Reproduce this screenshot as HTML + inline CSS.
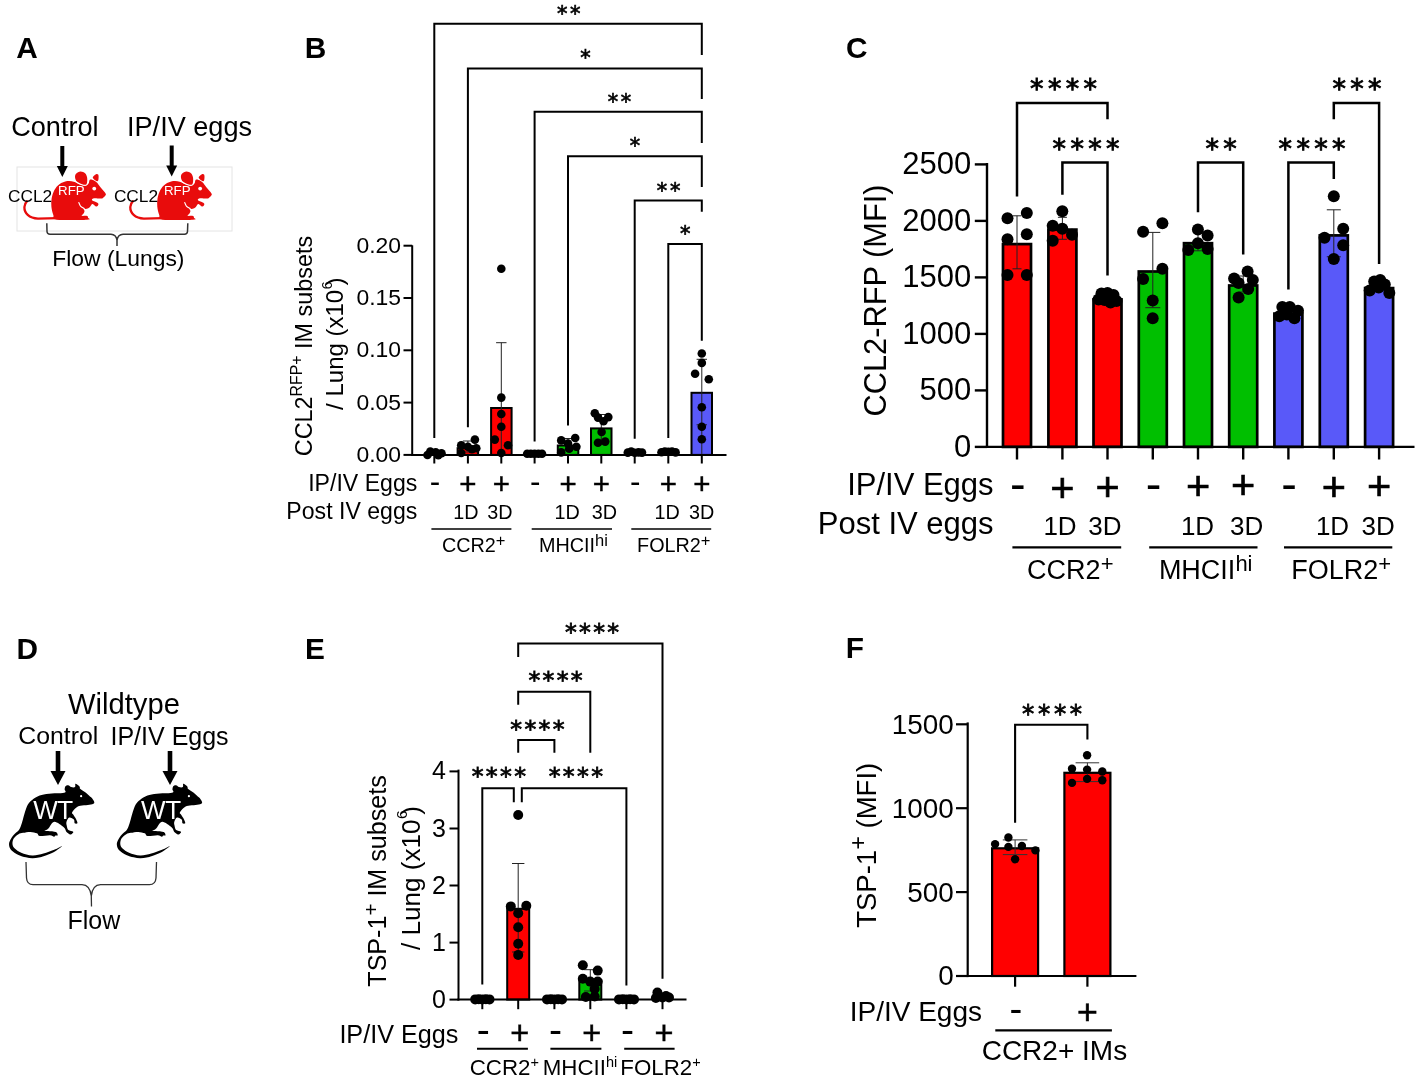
<!DOCTYPE html><html><head><meta charset="utf-8"><title>Figure</title>
<style>html,body{margin:0;padding:0;background:#fff}svg{display:block;will-change:transform}</style></head><body>
<svg width="1417" height="1082" viewBox="0 0 1417 1082">
<rect width="1417" height="1082" fill="#fff"/>
<text x="16.3" y="58.1" font-family="'Liberation Sans', Arial, sans-serif" font-size="29.8" text-anchor="start" font-weight="bold" fill="#000" >A</text>
<text x="304.8" y="58.1" font-family="'Liberation Sans', Arial, sans-serif" font-size="29.8" text-anchor="start" font-weight="bold" fill="#000" >B</text>
<text x="846.0" y="58.3" font-family="'Liberation Sans', Arial, sans-serif" font-size="29.8" text-anchor="start" font-weight="bold" fill="#000" >C</text>
<text x="16.5" y="658.5" font-family="'Liberation Sans', Arial, sans-serif" font-size="29.8" text-anchor="start" font-weight="bold" fill="#000" >D</text>
<text x="304.9" y="658.5" font-family="'Liberation Sans', Arial, sans-serif" font-size="29.8" text-anchor="start" font-weight="bold" fill="#000" >E</text>
<text x="845.8" y="658.4" font-family="'Liberation Sans', Arial, sans-serif" font-size="29.8" text-anchor="start" font-weight="bold" fill="#000" >F</text>
<g id="panelA">
<rect x="17" y="167" width="215" height="64" fill="none" stroke="#e4e4e4" stroke-width="1"/>
<text x="11.2" y="136.0" font-family="'Liberation Sans', Arial, sans-serif" font-size="27.1" text-anchor="start" font-weight="normal" fill="#000" >Control</text>
<text x="127.0" y="136.0" font-family="'Liberation Sans', Arial, sans-serif" font-size="27.1" text-anchor="start" font-weight="normal" fill="#000" >IP/IV eggs</text>
<line x1="62.3" y1="146.0" x2="62.3" y2="167.0" stroke="#000" stroke-width="4" stroke-linecap="butt"/>
<polygon points="56.8,166.0 67.8,166.0 62.3,177.0" fill="#000"/>
<line x1="171.7" y1="145.5" x2="171.7" y2="166.5" stroke="#000" stroke-width="4" stroke-linecap="butt"/>
<polygon points="166.2,165.5 177.2,165.5 171.7,176.5" fill="#000"/>
<g transform="translate(0,0)" fill="#e80c0c">
<path d="M57.5,218.1 L38,218.6 C29,218.3 24.2,213 24.4,207 C24.6,204 25.6,202.5 26.9,201.3" fill="none" stroke="#e80c0c" stroke-width="2.3" stroke-linecap="round"/>
<path d="M56.92,219.63 C51.30,218.84 54.24,217.09 53.32,214.92 C52.40,212.74 51.66,209.37 51.38,206.60 C51.10,203.82 51.15,201.05 51.66,198.28 C52.16,195.50 53.13,192.32 54.43,189.96 C55.72,187.60 57.29,185.61 59.42,184.13 C61.55,182.66 64.78,181.50 67.19,181.08 C69.59,180.67 71.81,181.13 73.84,181.64 C75.87,182.15 77.54,183.44 79.39,184.13 C81.24,184.83 83.41,185.89 84.93,185.80 C86.46,185.71 87.75,184.55 88.54,183.58 C89.32,182.61 88.95,180.58 89.65,179.98 C90.34,179.37 91.54,179.59 92.70,179.98 C93.85,180.36 95.29,181.10 96.58,182.30 C97.87,183.51 99.35,185.82 100.46,187.19 C101.57,188.55 102.39,189.48 103.24,190.51 C104.09,191.55 105.16,192.64 105.57,193.40 C105.97,194.16 106.06,194.34 105.68,195.06 C105.29,195.78 104.11,197.13 103.24,197.72 C102.37,198.31 101.85,198.52 100.46,198.61 C99.08,198.70 96.28,198.22 94.92,198.28 C93.55,198.33 92.67,198.57 92.25,198.94 C91.84,199.31 91.79,199.98 92.42,200.50 C93.05,201.01 95.04,201.49 96.03,202.05 C97.02,202.60 98.06,203.20 98.36,203.82 C98.65,204.45 98.19,205.40 97.80,205.82 C97.41,206.25 96.69,206.56 96.03,206.38 C95.36,206.19 94.45,205.12 93.81,204.71 C93.16,204.30 92.70,203.69 92.14,203.94 C91.59,204.18 91.13,205.41 90.48,206.15 C89.83,206.89 89.09,207.91 88.26,208.37 C87.43,208.83 86.32,208.93 85.49,208.93 C84.66,208.93 83.44,208.02 83.27,208.37 C83.10,208.72 84.47,210.13 84.49,211.03 C84.51,211.94 83.84,213.02 83.38,213.81 C82.92,214.59 81.11,215.40 81.72,215.75 C82.33,216.10 85.99,215.59 87.04,215.92 C88.09,216.24 88.04,217.06 88.04,217.69 C88.04,218.32 92.23,219.36 87.04,219.69 C81.86,220.01 62.54,220.43 56.92,219.63 Z"/>
<path d="M80.50,171.54 C79.00,171.64 76.97,172.89 76.06,173.87 C75.15,174.86 74.92,176.20 75.06,177.48 C75.20,178.75 75.71,180.42 76.89,181.53 C78.07,182.64 80.56,183.70 82.16,184.13 C83.76,184.57 85.65,185.20 86.49,184.13 C87.32,183.07 87.39,179.56 87.15,177.76 C86.91,175.95 86.15,174.35 85.04,173.32 C83.94,172.28 81.99,171.45 80.50,171.54 Z" stroke="#fff" stroke-width="2.2" paint-order="stroke"/>
<path d="M92.81,177.65 C92.57,176.47 95.14,174.67 96.03,174.15 C96.91,173.63 97.71,173.94 98.13,174.54 C98.56,175.14 98.69,176.65 98.58,177.76 C98.47,178.87 98.43,181.21 97.47,181.20 C96.51,181.18 93.05,178.82 92.81,177.65 Z" stroke="#fff" stroke-width="1.2" paint-order="stroke"/>
<path d="M78.83,202.60 C79.11,203.18 79.62,205.05 80.50,206.04 C81.37,207.03 83.50,208.12 84.10,208.54" fill="none" stroke="#fff" stroke-width="1.1" stroke-linecap="round"/>
<circle cx="94.25" cy="188.57" r="1.9" fill="#fff"/>
</g>
<g transform="translate(105.9,0)" fill="#e80c0c">
<path d="M57.5,218.1 L38,218.6 C29,218.3 24.2,213 24.4,207 C24.6,204 25.6,202.5 26.9,201.3" fill="none" stroke="#e80c0c" stroke-width="2.3" stroke-linecap="round"/>
<path d="M56.92,219.63 C51.30,218.84 54.24,217.09 53.32,214.92 C52.40,212.74 51.66,209.37 51.38,206.60 C51.10,203.82 51.15,201.05 51.66,198.28 C52.16,195.50 53.13,192.32 54.43,189.96 C55.72,187.60 57.29,185.61 59.42,184.13 C61.55,182.66 64.78,181.50 67.19,181.08 C69.59,180.67 71.81,181.13 73.84,181.64 C75.87,182.15 77.54,183.44 79.39,184.13 C81.24,184.83 83.41,185.89 84.93,185.80 C86.46,185.71 87.75,184.55 88.54,183.58 C89.32,182.61 88.95,180.58 89.65,179.98 C90.34,179.37 91.54,179.59 92.70,179.98 C93.85,180.36 95.29,181.10 96.58,182.30 C97.87,183.51 99.35,185.82 100.46,187.19 C101.57,188.55 102.39,189.48 103.24,190.51 C104.09,191.55 105.16,192.64 105.57,193.40 C105.97,194.16 106.06,194.34 105.68,195.06 C105.29,195.78 104.11,197.13 103.24,197.72 C102.37,198.31 101.85,198.52 100.46,198.61 C99.08,198.70 96.28,198.22 94.92,198.28 C93.55,198.33 92.67,198.57 92.25,198.94 C91.84,199.31 91.79,199.98 92.42,200.50 C93.05,201.01 95.04,201.49 96.03,202.05 C97.02,202.60 98.06,203.20 98.36,203.82 C98.65,204.45 98.19,205.40 97.80,205.82 C97.41,206.25 96.69,206.56 96.03,206.38 C95.36,206.19 94.45,205.12 93.81,204.71 C93.16,204.30 92.70,203.69 92.14,203.94 C91.59,204.18 91.13,205.41 90.48,206.15 C89.83,206.89 89.09,207.91 88.26,208.37 C87.43,208.83 86.32,208.93 85.49,208.93 C84.66,208.93 83.44,208.02 83.27,208.37 C83.10,208.72 84.47,210.13 84.49,211.03 C84.51,211.94 83.84,213.02 83.38,213.81 C82.92,214.59 81.11,215.40 81.72,215.75 C82.33,216.10 85.99,215.59 87.04,215.92 C88.09,216.24 88.04,217.06 88.04,217.69 C88.04,218.32 92.23,219.36 87.04,219.69 C81.86,220.01 62.54,220.43 56.92,219.63 Z"/>
<path d="M80.50,171.54 C79.00,171.64 76.97,172.89 76.06,173.87 C75.15,174.86 74.92,176.20 75.06,177.48 C75.20,178.75 75.71,180.42 76.89,181.53 C78.07,182.64 80.56,183.70 82.16,184.13 C83.76,184.57 85.65,185.20 86.49,184.13 C87.32,183.07 87.39,179.56 87.15,177.76 C86.91,175.95 86.15,174.35 85.04,173.32 C83.94,172.28 81.99,171.45 80.50,171.54 Z" stroke="#fff" stroke-width="2.2" paint-order="stroke"/>
<path d="M92.81,177.65 C92.57,176.47 95.14,174.67 96.03,174.15 C96.91,173.63 97.71,173.94 98.13,174.54 C98.56,175.14 98.69,176.65 98.58,177.76 C98.47,178.87 98.43,181.21 97.47,181.20 C96.51,181.18 93.05,178.82 92.81,177.65 Z" stroke="#fff" stroke-width="1.2" paint-order="stroke"/>
<path d="M78.83,202.60 C79.11,203.18 79.62,205.05 80.50,206.04 C81.37,207.03 83.50,208.12 84.10,208.54" fill="none" stroke="#fff" stroke-width="1.1" stroke-linecap="round"/>
<circle cx="94.25" cy="188.57" r="1.9" fill="#fff"/>
</g>
<text x="8.0" y="201.8" font-family="'Liberation Sans', Arial, sans-serif" font-size="17.3" text-anchor="start" font-weight="normal" fill="#000" >CCL2</text>
<text x="113.9" y="201.8" font-family="'Liberation Sans', Arial, sans-serif" font-size="17.3" text-anchor="start" font-weight="normal" fill="#000" >CCL2</text>
<text x="58.1" y="195.3" font-family="'Liberation Sans', Arial, sans-serif" font-size="13.3" text-anchor="start" font-weight="normal" fill="#fff" >RFP</text>
<text x="164.0" y="195.3" font-family="'Liberation Sans', Arial, sans-serif" font-size="13.3" text-anchor="start" font-weight="normal" fill="#fff" >RFP</text>
<path d="M46.8,223.3 L47,231.5 Q47.2,234.3 50,234.3 L111,234.3 Q116,234.5 117,240 L117,246 M117,240 Q118,234.5 123,234.3 L184.5,234.3 Q187.3,234.3 187.5,231.5 L187.8,223.3" fill="none" stroke="#333" stroke-width="1.5"/>
<text x="52.2" y="266.0" font-family="'Liberation Sans', Arial, sans-serif" font-size="22.9" text-anchor="start" font-weight="normal" fill="#000" >Flow (Lungs)</text>
</g>
<g id="panelB">
<rect x="457.6" y="448.2" width="20.5" height="6.7" fill="#ff0000" stroke="#000" stroke-width="2"/>
<rect x="491.1" y="408.0" width="20.5" height="46.9" fill="#ff0000" stroke="#000" stroke-width="2"/>
<rect x="557.8" y="445.5" width="20.5" height="9.4" fill="#00bf00" stroke="#000" stroke-width="2"/>
<rect x="591.0" y="428.4" width="20.5" height="26.5" fill="#00bf00" stroke="#000" stroke-width="2"/>
<rect x="691.5" y="392.8" width="20.5" height="62.1" fill="#5959f9" stroke="#000" stroke-width="2"/>
<line x1="501.3" y1="342.7" x2="501.3" y2="454.9" stroke="#222" stroke-width="1" stroke-linecap="butt"/>
<line x1="496.1" y1="342.7" x2="506.5" y2="342.7" stroke="#222" stroke-width="1" stroke-linecap="butt"/>
<line x1="496.1" y1="454.9" x2="506.5" y2="454.9" stroke="#222" stroke-width="1" stroke-linecap="butt"/>
<line x1="701.8" y1="359.3" x2="701.8" y2="424.8" stroke="#222" stroke-width="1" stroke-linecap="butt"/>
<line x1="696.6" y1="359.3" x2="707.0" y2="359.3" stroke="#222" stroke-width="1" stroke-linecap="butt"/>
<line x1="696.6" y1="424.8" x2="707.0" y2="424.8" stroke="#222" stroke-width="1" stroke-linecap="butt"/>
<line x1="701.8" y1="424.0" x2="701.8" y2="454.9" stroke="#222" stroke-width="1" stroke-linecap="butt"/>
<line x1="601.3" y1="414.5" x2="601.3" y2="440.0" stroke="#222" stroke-width="1" stroke-linecap="butt"/>
<line x1="596.1" y1="414.5" x2="606.5" y2="414.5" stroke="#222" stroke-width="1" stroke-linecap="butt"/>
<line x1="596.1" y1="440.0" x2="606.5" y2="440.0" stroke="#222" stroke-width="1" stroke-linecap="butt"/>
<line x1="467.9" y1="441.0" x2="467.9" y2="452.0" stroke="#222" stroke-width="1" stroke-linecap="butt"/>
<line x1="462.9" y1="441.0" x2="472.9" y2="441.0" stroke="#222" stroke-width="1" stroke-linecap="butt"/>
<line x1="462.9" y1="452.0" x2="472.9" y2="452.0" stroke="#222" stroke-width="1" stroke-linecap="butt"/>
<line x1="568.0" y1="438.5" x2="568.0" y2="450.0" stroke="#222" stroke-width="1" stroke-linecap="butt"/>
<line x1="563.0" y1="438.5" x2="573.0" y2="438.5" stroke="#222" stroke-width="1" stroke-linecap="butt"/>
<line x1="563.0" y1="450.0" x2="573.0" y2="450.0" stroke="#222" stroke-width="1" stroke-linecap="butt"/>
<line x1="412.2" y1="245.3" x2="412.2" y2="455.9" stroke="#000" stroke-width="2" stroke-linecap="butt"/>
<line x1="411.2" y1="454.9" x2="726.5" y2="454.9" stroke="#000" stroke-width="2" stroke-linecap="butt"/>
<line x1="403.5" y1="454.9" x2="412.2" y2="454.9" stroke="#000" stroke-width="2" stroke-linecap="butt"/>
<text x="401.0" y="462.0" font-family="'Liberation Sans', Arial, sans-serif" font-size="22.9" text-anchor="end" font-weight="normal" fill="#000" >0.00</text>
<line x1="403.5" y1="402.6" x2="412.2" y2="402.6" stroke="#000" stroke-width="2" stroke-linecap="butt"/>
<text x="401.0" y="409.7" font-family="'Liberation Sans', Arial, sans-serif" font-size="22.9" text-anchor="end" font-weight="normal" fill="#000" >0.05</text>
<line x1="403.5" y1="350.3" x2="412.2" y2="350.3" stroke="#000" stroke-width="2" stroke-linecap="butt"/>
<text x="401.0" y="357.4" font-family="'Liberation Sans', Arial, sans-serif" font-size="22.9" text-anchor="end" font-weight="normal" fill="#000" >0.10</text>
<line x1="403.5" y1="298.0" x2="412.2" y2="298.0" stroke="#000" stroke-width="2" stroke-linecap="butt"/>
<text x="401.0" y="305.1" font-family="'Liberation Sans', Arial, sans-serif" font-size="22.9" text-anchor="end" font-weight="normal" fill="#000" >0.15</text>
<line x1="403.5" y1="245.7" x2="412.2" y2="245.7" stroke="#000" stroke-width="2" stroke-linecap="butt"/>
<text x="401.0" y="252.8" font-family="'Liberation Sans', Arial, sans-serif" font-size="22.9" text-anchor="end" font-weight="normal" fill="#000" >0.20</text>
<line x1="434.3" y1="454.9" x2="434.3" y2="463.5" stroke="#000" stroke-width="2" stroke-linecap="butt"/>
<line x1="467.9" y1="454.9" x2="467.9" y2="463.5" stroke="#000" stroke-width="2" stroke-linecap="butt"/>
<line x1="501.3" y1="454.9" x2="501.3" y2="463.5" stroke="#000" stroke-width="2" stroke-linecap="butt"/>
<line x1="534.6" y1="454.9" x2="534.6" y2="463.5" stroke="#000" stroke-width="2" stroke-linecap="butt"/>
<line x1="568.0" y1="454.9" x2="568.0" y2="463.5" stroke="#000" stroke-width="2" stroke-linecap="butt"/>
<line x1="601.3" y1="454.9" x2="601.3" y2="463.5" stroke="#000" stroke-width="2" stroke-linecap="butt"/>
<line x1="634.7" y1="454.9" x2="634.7" y2="463.5" stroke="#000" stroke-width="2" stroke-linecap="butt"/>
<line x1="668.3" y1="454.9" x2="668.3" y2="463.5" stroke="#000" stroke-width="2" stroke-linecap="butt"/>
<line x1="701.8" y1="454.9" x2="701.8" y2="463.5" stroke="#000" stroke-width="2" stroke-linecap="butt"/>
<circle cx="427.5" cy="455.0" r="4.3" fill="#000"/>
<circle cx="430.3" cy="451.6" r="4.3" fill="#000"/>
<circle cx="435.7" cy="452.3" r="4.3" fill="#000"/>
<circle cx="441.5" cy="453.3" r="4.3" fill="#000"/>
<circle cx="438.3" cy="455.3" r="4.3" fill="#000"/>
<circle cx="461.2" cy="445.2" r="4.3" fill="#000"/>
<circle cx="474.9" cy="439.6" r="4.3" fill="#000"/>
<circle cx="476.3" cy="448.3" r="4.3" fill="#000"/>
<circle cx="461.2" cy="453.0" r="4.3" fill="#000"/>
<circle cx="467.9" cy="446.8" r="4.3" fill="#000"/>
<circle cx="472.0" cy="449.2" r="4.3" fill="#000"/>
<circle cx="501.3" cy="268.8" r="4.3" fill="#000"/>
<circle cx="501.3" cy="397.6" r="4.3" fill="#000"/>
<circle cx="501.3" cy="414.0" r="4.3" fill="#000"/>
<circle cx="501.3" cy="426.7" r="4.3" fill="#000"/>
<circle cx="494.8" cy="439.6" r="4.3" fill="#000"/>
<circle cx="508.0" cy="445.2" r="4.3" fill="#000"/>
<circle cx="501.3" cy="453.0" r="4.3" fill="#000"/>
<circle cx="527.2" cy="453.8" r="4.3" fill="#000"/>
<circle cx="530.8" cy="453.8" r="4.3" fill="#000"/>
<circle cx="534.6" cy="453.8" r="4.3" fill="#000"/>
<circle cx="538.4" cy="453.8" r="4.3" fill="#000"/>
<circle cx="542.0" cy="453.8" r="4.3" fill="#000"/>
<circle cx="561.2" cy="440.4" r="4.3" fill="#000"/>
<circle cx="575.2" cy="438.0" r="4.3" fill="#000"/>
<circle cx="568.0" cy="443.5" r="4.3" fill="#000"/>
<circle cx="576.4" cy="446.8" r="4.3" fill="#000"/>
<circle cx="561.2" cy="452.4" r="4.3" fill="#000"/>
<circle cx="569.2" cy="448.8" r="4.3" fill="#000"/>
<circle cx="594.8" cy="413.2" r="4.3" fill="#000"/>
<circle cx="608.3" cy="417.1" r="4.3" fill="#000"/>
<circle cx="598.0" cy="417.6" r="4.3" fill="#000"/>
<circle cx="603.5" cy="421.2" r="4.3" fill="#000"/>
<circle cx="601.6" cy="432.0" r="4.3" fill="#000"/>
<circle cx="598.0" cy="442.8" r="4.3" fill="#000"/>
<circle cx="605.2" cy="441.6" r="4.3" fill="#000"/>
<circle cx="627.8" cy="452.6" r="4.3" fill="#000"/>
<circle cx="631.2" cy="451.6" r="4.3" fill="#000"/>
<circle cx="634.7" cy="452.8" r="4.3" fill="#000"/>
<circle cx="638.5" cy="452.4" r="4.3" fill="#000"/>
<circle cx="642.0" cy="452.6" r="4.3" fill="#000"/>
<circle cx="661.5" cy="452.2" r="4.3" fill="#000"/>
<circle cx="664.8" cy="451.6" r="4.3" fill="#000"/>
<circle cx="668.3" cy="451.8" r="4.3" fill="#000"/>
<circle cx="672.0" cy="451.6" r="4.3" fill="#000"/>
<circle cx="675.6" cy="452.4" r="4.3" fill="#000"/>
<circle cx="701.8" cy="353.5" r="4.3" fill="#000"/>
<circle cx="701.8" cy="362.9" r="4.3" fill="#000"/>
<circle cx="695.1" cy="373.7" r="4.3" fill="#000"/>
<circle cx="708.8" cy="379.2" r="4.3" fill="#000"/>
<circle cx="701.8" cy="407.2" r="4.3" fill="#000"/>
<circle cx="701.8" cy="426.7" r="4.3" fill="#000"/>
<circle cx="701.8" cy="439.2" r="4.3" fill="#000"/>
<polyline points="434.3,438.0 434.3,23.7 701.8,23.7 701.8,55.0" fill="none" stroke="#000" stroke-width="2" stroke-linejoin="miter"/>
<polyline points="467.9,427.2 467.9,68.4 701.8,68.4 701.8,99.0" fill="none" stroke="#000" stroke-width="2" stroke-linejoin="miter"/>
<polyline points="534.6,441.6 534.6,111.8 701.8,111.8 701.8,143.0" fill="none" stroke="#000" stroke-width="2" stroke-linejoin="miter"/>
<polyline points="568.0,425.5 568.0,156.2 701.8,156.2 701.8,187.0" fill="none" stroke="#000" stroke-width="2" stroke-linejoin="miter"/>
<polyline points="634.7,438.7 634.7,200.5 701.8,200.5 701.8,211.7" fill="none" stroke="#000" stroke-width="2" stroke-linejoin="miter"/>
<polyline points="668.3,438.0 668.3,244.0 701.8,244.0 701.8,340.8" fill="none" stroke="#000" stroke-width="2" stroke-linejoin="miter"/>
<text x="570.1" y="21.1" font-family="'DejaVu Sans', 'Liberation Sans', sans-serif" font-size="20.8" text-anchor="middle" letter-spacing="2.7" fill="#000" stroke="#000" stroke-width="0.67">**</text>
<text x="586.9" y="65.2" font-family="'DejaVu Sans', 'Liberation Sans', sans-serif" font-size="20.8" text-anchor="middle" letter-spacing="2.7" fill="#000" stroke="#000" stroke-width="0.67">*</text>
<text x="620.8" y="109.1" font-family="'DejaVu Sans', 'Liberation Sans', sans-serif" font-size="20.8" text-anchor="middle" letter-spacing="2.7" fill="#000" stroke="#000" stroke-width="0.67">**</text>
<text x="636.4" y="153.4" font-family="'DejaVu Sans', 'Liberation Sans', sans-serif" font-size="20.8" text-anchor="middle" letter-spacing="2.7" fill="#000" stroke="#000" stroke-width="0.67">*</text>
<text x="669.9" y="197.7" font-family="'DejaVu Sans', 'Liberation Sans', sans-serif" font-size="20.8" text-anchor="middle" letter-spacing="2.7" fill="#000" stroke="#000" stroke-width="0.67">**</text>
<text x="686.6" y="241.2" font-family="'DejaVu Sans', 'Liberation Sans', sans-serif" font-size="20.8" text-anchor="middle" letter-spacing="2.7" fill="#000" stroke="#000" stroke-width="0.67">*</text>
<text x="417.3" y="491.0" font-family="'Liberation Sans', Arial, sans-serif" font-size="23.1" text-anchor="end" font-weight="normal" fill="#000" >IP/IV Eggs</text>
<text x="417.3" y="518.8" font-family="'Liberation Sans', Arial, sans-serif" font-size="23.1" text-anchor="end" font-weight="normal" fill="#000" >Post IV eggs</text>
<text x="434.9" y="492.1" font-family="'Liberation Sans', Arial, sans-serif" font-size="31.4" text-anchor="middle" fill="#000">-</text>
<text x="467.9" y="494.3" font-family="'Liberation Sans', Arial, sans-serif" font-size="29.5" text-anchor="middle" fill="#000" stroke="#000" stroke-width="0.44">+</text>
<text x="501.3" y="494.3" font-family="'Liberation Sans', Arial, sans-serif" font-size="29.5" text-anchor="middle" fill="#000" stroke="#000" stroke-width="0.44">+</text>
<text x="535.2" y="492.1" font-family="'Liberation Sans', Arial, sans-serif" font-size="31.4" text-anchor="middle" fill="#000">-</text>
<text x="568.0" y="494.3" font-family="'Liberation Sans', Arial, sans-serif" font-size="29.5" text-anchor="middle" fill="#000" stroke="#000" stroke-width="0.44">+</text>
<text x="601.3" y="494.3" font-family="'Liberation Sans', Arial, sans-serif" font-size="29.5" text-anchor="middle" fill="#000" stroke="#000" stroke-width="0.44">+</text>
<text x="635.3" y="492.1" font-family="'Liberation Sans', Arial, sans-serif" font-size="31.4" text-anchor="middle" fill="#000">-</text>
<text x="668.3" y="494.3" font-family="'Liberation Sans', Arial, sans-serif" font-size="29.5" text-anchor="middle" fill="#000" stroke="#000" stroke-width="0.44">+</text>
<text x="701.8" y="494.3" font-family="'Liberation Sans', Arial, sans-serif" font-size="29.5" text-anchor="middle" fill="#000" stroke="#000" stroke-width="0.44">+</text>
<text x="465.8" y="518.8" font-family="'Liberation Sans', Arial, sans-serif" font-size="19.8" text-anchor="middle" font-weight="normal" fill="#000" >1D</text>
<text x="499.9" y="518.8" font-family="'Liberation Sans', Arial, sans-serif" font-size="19.8" text-anchor="middle" font-weight="normal" fill="#000" >3D</text>
<text x="567.1" y="518.8" font-family="'Liberation Sans', Arial, sans-serif" font-size="19.8" text-anchor="middle" font-weight="normal" fill="#000" >1D</text>
<text x="604.4" y="518.8" font-family="'Liberation Sans', Arial, sans-serif" font-size="19.8" text-anchor="middle" font-weight="normal" fill="#000" >3D</text>
<text x="667.1" y="518.8" font-family="'Liberation Sans', Arial, sans-serif" font-size="19.8" text-anchor="middle" font-weight="normal" fill="#000" >1D</text>
<text x="701.6" y="518.8" font-family="'Liberation Sans', Arial, sans-serif" font-size="19.8" text-anchor="middle" font-weight="normal" fill="#000" >3D</text>
<line x1="431.4" y1="529.0" x2="511.4" y2="529.0" stroke="#000" stroke-width="1.6" stroke-linecap="butt"/>
<line x1="531.7" y1="529.0" x2="612.0" y2="529.0" stroke="#000" stroke-width="1.6" stroke-linecap="butt"/>
<line x1="631.3" y1="529.0" x2="711.2" y2="529.0" stroke="#000" stroke-width="1.6" stroke-linecap="butt"/>
<text x="473.7" y="552.3" font-family="'Liberation Sans', Arial, sans-serif" font-size="19.8" text-anchor="middle" font-weight="normal" fill="#000" >CCR2<tspan dy="-6" dx="0" font-size="16.5">+</tspan><tspan dy="6" dx="0" font-size="1">&#8203;</tspan></text>
<text x="573.4" y="552.3" font-family="'Liberation Sans', Arial, sans-serif" font-size="19.8" text-anchor="middle" font-weight="normal" fill="#000" >MHCII<tspan dy="-6" dx="0" font-size="16.5">hi</tspan><tspan dy="6" dx="0" font-size="1">&#8203;</tspan></text>
<text x="673.8" y="552.3" font-family="'Liberation Sans', Arial, sans-serif" font-size="19.8" text-anchor="middle" font-weight="normal" fill="#000" >FOLR2<tspan dy="-6" dx="0" font-size="16.5">+</tspan><tspan dy="6" dx="0" font-size="1">&#8203;</tspan></text>
<text transform="translate(311.9,346.0) rotate(-90)" font-family="'Liberation Sans', Arial, sans-serif" font-size="23.45" text-anchor="middle" fill="#000">CCL2<tspan dy="-10.2" dx="0" font-size="15.8">RFP+</tspan><tspan dy="10.2" dx="0" font-size="1">&#8203;</tspan> IM subsets</text>
<text transform="translate(343.0,343.7) rotate(-90)" font-family="'Liberation Sans', Arial, sans-serif" font-size="24.0" text-anchor="middle" fill="#000">/ Lung (x10<tspan dy="-11.5" dx="0.5" font-size="14">6</tspan><tspan dy="11.5" dx="-4" font-size="1">&#8203;</tspan>)</text>
</g>
<g id="panelC">
<rect x="1003.0" y="244.1" width="28.0" height="202.8" fill="#ff0000" stroke="#000" stroke-width="2.7"/>
<rect x="1048.4" y="229.6" width="28.0" height="217.3" fill="#ff0000" stroke="#000" stroke-width="2.7"/>
<rect x="1093.5" y="299.4" width="28.0" height="147.5" fill="#ff0000" stroke="#000" stroke-width="2.7"/>
<rect x="1138.8" y="271.5" width="28.0" height="175.4" fill="#00bf00" stroke="#000" stroke-width="2.7"/>
<rect x="1184.0" y="243.2" width="28.0" height="203.7" fill="#00bf00" stroke="#000" stroke-width="2.7"/>
<rect x="1229.2" y="285.5" width="28.0" height="161.4" fill="#00bf00" stroke="#000" stroke-width="2.7"/>
<rect x="1274.4" y="313.6" width="28.0" height="133.3" fill="#5959f9" stroke="#000" stroke-width="2.7"/>
<rect x="1319.8" y="235.4" width="28.0" height="211.5" fill="#5959f9" stroke="#000" stroke-width="2.7"/>
<rect x="1365.1" y="288.1" width="28.0" height="158.8" fill="#5959f9" stroke="#000" stroke-width="2.7"/>
<line x1="1017.0" y1="215.8" x2="1017.0" y2="268.8" stroke="#222" stroke-width="1" stroke-linecap="butt"/>
<line x1="1012.5" y1="215.8" x2="1021.5" y2="215.8" stroke="#222" stroke-width="1" stroke-linecap="butt"/>
<line x1="1012.5" y1="268.8" x2="1021.5" y2="268.8" stroke="#222" stroke-width="1" stroke-linecap="butt"/>
<line x1="1062.4" y1="217.3" x2="1062.4" y2="239.3" stroke="#222" stroke-width="1" stroke-linecap="butt"/>
<line x1="1057.9" y1="217.3" x2="1066.9" y2="217.3" stroke="#222" stroke-width="1" stroke-linecap="butt"/>
<line x1="1057.9" y1="239.3" x2="1066.9" y2="239.3" stroke="#222" stroke-width="1" stroke-linecap="butt"/>
<line x1="1152.8" y1="232.4" x2="1152.8" y2="307.7" stroke="#222" stroke-width="1" stroke-linecap="butt"/>
<line x1="1145.3" y1="232.4" x2="1160.3" y2="232.4" stroke="#222" stroke-width="1" stroke-linecap="butt"/>
<line x1="1145.3" y1="307.7" x2="1160.3" y2="307.7" stroke="#222" stroke-width="1" stroke-linecap="butt"/>
<line x1="1198.0" y1="232.4" x2="1198.0" y2="250.8" stroke="#222" stroke-width="1" stroke-linecap="butt"/>
<line x1="1193.5" y1="232.4" x2="1202.5" y2="232.4" stroke="#222" stroke-width="1" stroke-linecap="butt"/>
<line x1="1193.5" y1="250.8" x2="1202.5" y2="250.8" stroke="#222" stroke-width="1" stroke-linecap="butt"/>
<line x1="1333.8" y1="209.8" x2="1333.8" y2="256.8" stroke="#222" stroke-width="1" stroke-linecap="butt"/>
<line x1="1326.8" y1="209.8" x2="1340.8" y2="209.8" stroke="#222" stroke-width="1" stroke-linecap="butt"/>
<line x1="1326.8" y1="256.8" x2="1340.8" y2="256.8" stroke="#222" stroke-width="1" stroke-linecap="butt"/>
<line x1="1243.2" y1="276.0" x2="1243.2" y2="292.0" stroke="#222" stroke-width="1" stroke-linecap="butt"/>
<line x1="1238.7" y1="276.0" x2="1247.7" y2="276.0" stroke="#222" stroke-width="1" stroke-linecap="butt"/>
<line x1="1238.7" y1="292.0" x2="1247.7" y2="292.0" stroke="#222" stroke-width="1" stroke-linecap="butt"/>
<line x1="987.0" y1="163.0" x2="987.0" y2="448.1" stroke="#000" stroke-width="2.4" stroke-linecap="butt"/>
<line x1="985.8" y1="446.9" x2="1414.5" y2="446.9" stroke="#000" stroke-width="2.4" stroke-linecap="butt"/>
<line x1="974.8" y1="446.9" x2="987.0" y2="446.9" stroke="#000" stroke-width="2.4" stroke-linecap="butt"/>
<text x="971.2" y="456.8" font-family="'Liberation Sans', Arial, sans-serif" font-size="31" text-anchor="end" font-weight="normal" fill="#000" >0</text>
<line x1="974.8" y1="390.4" x2="987.0" y2="390.4" stroke="#000" stroke-width="2.4" stroke-linecap="butt"/>
<text x="971.2" y="400.3" font-family="'Liberation Sans', Arial, sans-serif" font-size="31" text-anchor="end" font-weight="normal" fill="#000" >500</text>
<line x1="974.8" y1="333.9" x2="987.0" y2="333.9" stroke="#000" stroke-width="2.4" stroke-linecap="butt"/>
<text x="971.2" y="343.8" font-family="'Liberation Sans', Arial, sans-serif" font-size="31" text-anchor="end" font-weight="normal" fill="#000" >1000</text>
<line x1="974.8" y1="277.4" x2="987.0" y2="277.4" stroke="#000" stroke-width="2.4" stroke-linecap="butt"/>
<text x="971.2" y="287.3" font-family="'Liberation Sans', Arial, sans-serif" font-size="31" text-anchor="end" font-weight="normal" fill="#000" >1500</text>
<line x1="974.8" y1="220.9" x2="987.0" y2="220.9" stroke="#000" stroke-width="2.4" stroke-linecap="butt"/>
<text x="971.2" y="230.8" font-family="'Liberation Sans', Arial, sans-serif" font-size="31" text-anchor="end" font-weight="normal" fill="#000" >2000</text>
<line x1="974.8" y1="164.4" x2="987.0" y2="164.4" stroke="#000" stroke-width="2.4" stroke-linecap="butt"/>
<text x="971.2" y="174.3" font-family="'Liberation Sans', Arial, sans-serif" font-size="31" text-anchor="end" font-weight="normal" fill="#000" >2500</text>
<line x1="1017.0" y1="446.9" x2="1017.0" y2="459.5" stroke="#000" stroke-width="2.4" stroke-linecap="butt"/>
<line x1="1062.4" y1="446.9" x2="1062.4" y2="459.5" stroke="#000" stroke-width="2.4" stroke-linecap="butt"/>
<line x1="1107.5" y1="446.9" x2="1107.5" y2="459.5" stroke="#000" stroke-width="2.4" stroke-linecap="butt"/>
<line x1="1152.8" y1="446.9" x2="1152.8" y2="459.5" stroke="#000" stroke-width="2.4" stroke-linecap="butt"/>
<line x1="1198.0" y1="446.9" x2="1198.0" y2="459.5" stroke="#000" stroke-width="2.4" stroke-linecap="butt"/>
<line x1="1243.2" y1="446.9" x2="1243.2" y2="459.5" stroke="#000" stroke-width="2.4" stroke-linecap="butt"/>
<line x1="1288.4" y1="446.9" x2="1288.4" y2="459.5" stroke="#000" stroke-width="2.4" stroke-linecap="butt"/>
<line x1="1333.8" y1="446.9" x2="1333.8" y2="459.5" stroke="#000" stroke-width="2.4" stroke-linecap="butt"/>
<line x1="1379.1" y1="446.9" x2="1379.1" y2="459.5" stroke="#000" stroke-width="2.4" stroke-linecap="butt"/>
<circle cx="1007.5" cy="218.2" r="6" fill="#000"/>
<circle cx="1026.8" cy="213.1" r="6" fill="#000"/>
<circle cx="1007.5" cy="239.3" r="6" fill="#000"/>
<circle cx="1026.8" cy="234.2" r="6" fill="#000"/>
<circle cx="1007.5" cy="274.9" r="6" fill="#000"/>
<circle cx="1026.8" cy="274.9" r="6" fill="#000"/>
<circle cx="1062.3" cy="211.3" r="6" fill="#000"/>
<circle cx="1052.7" cy="225.7" r="6" fill="#000"/>
<circle cx="1062.3" cy="228.8" r="6" fill="#000"/>
<circle cx="1072.0" cy="234.8" r="6" fill="#000"/>
<circle cx="1052.7" cy="240.8" r="6" fill="#000"/>
<circle cx="1101.5" cy="293.5" r="6" fill="#000"/>
<circle cx="1107.5" cy="293.0" r="6" fill="#000"/>
<circle cx="1113.5" cy="295.0" r="6" fill="#000"/>
<circle cx="1116.5" cy="301.0" r="6" fill="#000"/>
<circle cx="1098.5" cy="299.5" r="6" fill="#000"/>
<circle cx="1110.5" cy="302.5" r="6" fill="#000"/>
<circle cx="1104.5" cy="300.0" r="6" fill="#000"/>
<circle cx="1162.4" cy="223.3" r="6" fill="#000"/>
<circle cx="1143.1" cy="231.8" r="6" fill="#000"/>
<circle cx="1162.4" cy="268.8" r="6" fill="#000"/>
<circle cx="1143.1" cy="279.1" r="6" fill="#000"/>
<circle cx="1152.7" cy="300.5" r="6" fill="#000"/>
<circle cx="1152.7" cy="318.3" r="6" fill="#000"/>
<circle cx="1197.9" cy="229.4" r="6" fill="#000"/>
<circle cx="1207.6" cy="235.4" r="6" fill="#000"/>
<circle cx="1197.9" cy="243.2" r="6" fill="#000"/>
<circle cx="1188.3" cy="249.9" r="6" fill="#000"/>
<circle cx="1207.6" cy="249.0" r="6" fill="#000"/>
<circle cx="1247.6" cy="271.6" r="6" fill="#000"/>
<circle cx="1234.1" cy="278.5" r="6" fill="#000"/>
<circle cx="1252.8" cy="280.0" r="6" fill="#000"/>
<circle cx="1238.6" cy="283.0" r="6" fill="#000"/>
<circle cx="1248.2" cy="289.0" r="6" fill="#000"/>
<circle cx="1238.6" cy="297.5" r="6" fill="#000"/>
<circle cx="1282.3" cy="307.1" r="6" fill="#000"/>
<circle cx="1289.8" cy="307.1" r="6" fill="#000"/>
<circle cx="1298.0" cy="310.7" r="6" fill="#000"/>
<circle cx="1279.3" cy="316.2" r="6" fill="#000"/>
<circle cx="1286.8" cy="314.6" r="6" fill="#000"/>
<circle cx="1294.4" cy="318.3" r="6" fill="#000"/>
<circle cx="1333.8" cy="196.2" r="6" fill="#000"/>
<circle cx="1343.2" cy="228.8" r="6" fill="#000"/>
<circle cx="1324.5" cy="237.8" r="6" fill="#000"/>
<circle cx="1343.2" cy="245.3" r="6" fill="#000"/>
<circle cx="1333.8" cy="258.9" r="6" fill="#000"/>
<circle cx="1374.2" cy="281.5" r="6" fill="#000"/>
<circle cx="1380.2" cy="280.0" r="6" fill="#000"/>
<circle cx="1384.8" cy="284.5" r="6" fill="#000"/>
<circle cx="1369.7" cy="290.5" r="6" fill="#000"/>
<circle cx="1389.3" cy="293.0" r="6" fill="#000"/>
<circle cx="1378.7" cy="287.5" r="6" fill="#000"/>
<polyline points="1017.0,196.5 1017.0,103.0 1107.5,103.0 1107.5,119.3" fill="none" stroke="#000" stroke-width="2.5" stroke-linejoin="miter"/>
<polyline points="1062.4,194.7 1062.4,162.5 1107.5,162.5 1107.5,275.5" fill="none" stroke="#000" stroke-width="2.5" stroke-linejoin="miter"/>
<polyline points="1198.0,212.2 1198.0,162.5 1243.2,162.5 1243.2,254.4" fill="none" stroke="#000" stroke-width="2.5" stroke-linejoin="miter"/>
<polyline points="1288.4,289.6 1288.4,162.5 1333.8,162.5 1333.8,179.0" fill="none" stroke="#000" stroke-width="2.5" stroke-linejoin="miter"/>
<polyline points="1333.8,119.3 1333.8,103.0 1379.1,103.0 1379.1,264.0" fill="none" stroke="#000" stroke-width="2.5" stroke-linejoin="miter"/>
<text x="1065.7" y="98.3" font-family="'DejaVu Sans', 'Liberation Sans', sans-serif" font-size="26.9" text-anchor="middle" letter-spacing="4.35" fill="#000" stroke="#000" stroke-width="0.86">****</text>
<text x="1088.2" y="157.9" font-family="'DejaVu Sans', 'Liberation Sans', sans-serif" font-size="26.9" text-anchor="middle" letter-spacing="4.35" fill="#000" stroke="#000" stroke-width="0.86">****</text>
<text x="1223.2" y="157.9" font-family="'DejaVu Sans', 'Liberation Sans', sans-serif" font-size="26.9" text-anchor="middle" letter-spacing="4.35" fill="#000" stroke="#000" stroke-width="0.86">**</text>
<text x="1314.2" y="157.9" font-family="'DejaVu Sans', 'Liberation Sans', sans-serif" font-size="26.9" text-anchor="middle" letter-spacing="4.35" fill="#000" stroke="#000" stroke-width="0.86">****</text>
<text x="1359.2" y="98.3" font-family="'DejaVu Sans', 'Liberation Sans', sans-serif" font-size="26.9" text-anchor="middle" letter-spacing="4.35" fill="#000" stroke="#000" stroke-width="0.86">***</text>
<text x="993.6" y="494.7" font-family="'Liberation Sans', Arial, sans-serif" font-size="31" text-anchor="end" font-weight="normal" fill="#000" >IP/IV Eggs</text>
<text x="993.6" y="534.0" font-family="'Liberation Sans', Arial, sans-serif" font-size="31" text-anchor="end" font-weight="normal" fill="#000" >Post IV eggs</text>
<text x="1017.7" y="499.7" font-family="'Liberation Sans', Arial, sans-serif" font-size="46.9" text-anchor="middle" fill="#000">-</text>
<text x="1062.4" y="501.5" font-family="'Liberation Sans', Arial, sans-serif" font-size="41.5" text-anchor="middle" fill="#000" stroke="#000" stroke-width="0.62">+</text>
<text x="1107.5" y="500.7" font-family="'Liberation Sans', Arial, sans-serif" font-size="41.5" text-anchor="middle" fill="#000" stroke="#000" stroke-width="0.62">+</text>
<text x="1153.5" y="499.7" font-family="'Liberation Sans', Arial, sans-serif" font-size="46.9" text-anchor="middle" fill="#000">-</text>
<text x="1198.0" y="500.2" font-family="'Liberation Sans', Arial, sans-serif" font-size="41.5" text-anchor="middle" fill="#000" stroke="#000" stroke-width="0.62">+</text>
<text x="1243.2" y="498.8" font-family="'Liberation Sans', Arial, sans-serif" font-size="41.5" text-anchor="middle" fill="#000" stroke="#000" stroke-width="0.62">+</text>
<text x="1289.1" y="499.7" font-family="'Liberation Sans', Arial, sans-serif" font-size="46.9" text-anchor="middle" fill="#000">-</text>
<text x="1333.8" y="501.2" font-family="'Liberation Sans', Arial, sans-serif" font-size="41.5" text-anchor="middle" fill="#000" stroke="#000" stroke-width="0.62">+</text>
<text x="1379.1" y="500.4" font-family="'Liberation Sans', Arial, sans-serif" font-size="41.5" text-anchor="middle" fill="#000" stroke="#000" stroke-width="0.62">+</text>
<text x="1060.0" y="534.5" font-family="'Liberation Sans', Arial, sans-serif" font-size="26" text-anchor="middle" font-weight="normal" fill="#000" >1D</text>
<text x="1104.8" y="534.5" font-family="'Liberation Sans', Arial, sans-serif" font-size="26" text-anchor="middle" font-weight="normal" fill="#000" >3D</text>
<text x="1197.5" y="534.5" font-family="'Liberation Sans', Arial, sans-serif" font-size="26" text-anchor="middle" font-weight="normal" fill="#000" >1D</text>
<text x="1246.6" y="534.5" font-family="'Liberation Sans', Arial, sans-serif" font-size="26" text-anchor="middle" font-weight="normal" fill="#000" >3D</text>
<text x="1332.5" y="534.5" font-family="'Liberation Sans', Arial, sans-serif" font-size="26" text-anchor="middle" font-weight="normal" fill="#000" >1D</text>
<text x="1378.2" y="534.5" font-family="'Liberation Sans', Arial, sans-serif" font-size="26" text-anchor="middle" font-weight="normal" fill="#000" >3D</text>
<line x1="1012.4" y1="547.3" x2="1121.2" y2="547.3" stroke="#000" stroke-width="2.3" stroke-linecap="butt"/>
<line x1="1149.2" y1="547.3" x2="1257.5" y2="547.3" stroke="#000" stroke-width="2.3" stroke-linecap="butt"/>
<line x1="1284.0" y1="547.3" x2="1392.3" y2="547.3" stroke="#000" stroke-width="2.3" stroke-linecap="butt"/>
<text x="1070.3" y="578.9" font-family="'Liberation Sans', Arial, sans-serif" font-size="27" text-anchor="middle" font-weight="normal" fill="#000" >CCR2<tspan dy="-8.3" dx="0" font-size="22">+</tspan><tspan dy="8.3" dx="0" font-size="1">&#8203;</tspan></text>
<text x="1205.7" y="578.9" font-family="'Liberation Sans', Arial, sans-serif" font-size="27" text-anchor="middle" font-weight="normal" fill="#000" >MHCII<tspan dy="-8.3" dx="0" font-size="22">hi</tspan><tspan dy="8.3" dx="0" font-size="1">&#8203;</tspan></text>
<text x="1341.1" y="578.9" font-family="'Liberation Sans', Arial, sans-serif" font-size="27" text-anchor="middle" font-weight="normal" fill="#000" >FOLR2<tspan dy="-8.3" dx="0" font-size="22">+</tspan><tspan dy="8.3" dx="0" font-size="1">&#8203;</tspan></text>
<text transform="translate(886.0,300.5) rotate(-90)" font-family="'Liberation Sans', Arial, sans-serif" font-size="30.8" text-anchor="middle" fill="#000">CCL2-RFP (MFI)</text>
</g>
<g id="panelD">
<text x="68.0" y="714.0" font-family="'Liberation Sans', Arial, sans-serif" font-size="29.2" text-anchor="start" font-weight="normal" fill="#000" >Wildtype</text>
<text x="18.3" y="743.6" font-family="'Liberation Sans', Arial, sans-serif" font-size="24.8" text-anchor="start" font-weight="normal" fill="#000" >Control</text>
<text x="110.5" y="745.1" font-family="'Liberation Sans', Arial, sans-serif" font-size="25" text-anchor="start" font-weight="normal" fill="#000" >IP/IV Eggs</text>
<line x1="58.0" y1="751.0" x2="58.0" y2="772.0" stroke="#000" stroke-width="4.6" stroke-linecap="butt"/>
<polygon points="50.5,771.0 65.5,771.0 58.0,785.0" fill="#000"/>
<line x1="170.0" y1="751.0" x2="170.0" y2="772.0" stroke="#000" stroke-width="4.6" stroke-linecap="butt"/>
<polygon points="162.5,771.0 177.5,771.0 170.0,785.0" fill="#000"/>
<g transform="translate(0,0)">
<path d="M94.24,801.88 C94.09,801.03 92.93,799.41 92.40,798.64 C91.86,797.87 92.09,798.26 91.01,797.26 C89.93,796.26 87.70,794.02 85.93,792.64 C84.16,791.25 81.43,789.94 80.38,788.94 C79.34,787.94 80.18,787.37 79.65,786.63 C79.11,785.89 77.87,784.97 77.15,784.51 C76.43,784.04 75.66,783.43 75.30,783.86 C74.95,784.29 75.72,786.55 75.03,787.09 C74.33,787.63 72.18,787.37 71.14,787.09 C70.11,786.82 69.60,785.71 68.83,785.43 C68.06,785.15 67.14,785.23 66.52,785.43 C65.91,785.63 65.45,785.89 65.14,786.63 C64.83,787.37 64.60,789.02 64.68,789.87 C64.75,790.71 65.91,791.17 65.60,791.71 C65.29,792.25 65.14,792.79 62.83,793.10 C60.52,793.41 55.28,793.25 51.74,793.56 C48.20,793.87 44.35,794.25 41.58,794.95 C38.81,795.64 37.11,796.49 35.11,797.72 C33.11,798.95 31.03,800.64 29.57,802.34 C28.10,804.03 27.26,805.73 26.33,807.88 C25.41,810.04 24.79,812.66 24.02,815.27 C23.25,817.89 22.56,821.13 21.71,823.59 C20.87,826.05 20.25,828.21 18.94,830.06 C17.63,831.91 15.32,832.98 13.86,834.68 C12.40,836.37 10.96,838.53 10.16,840.22 C9.36,841.91 8.90,843.22 9.05,844.84 C9.21,846.46 9.52,848.23 11.09,849.92 C12.66,851.62 16.02,853.77 18.48,855.00 C20.94,856.24 23.56,856.78 25.87,857.31 C28.18,857.85 30.18,858.19 32.34,858.24 C34.49,858.28 36.80,857.95 38.81,857.59 C40.81,857.24 41.89,857.01 44.35,856.11 C46.81,855.22 51.13,853.50 53.59,852.23 C56.05,850.97 57.72,849.52 59.13,848.54 C60.55,847.55 62.09,846.50 62.09,846.32 C62.09,846.13 60.55,846.81 59.13,847.43 C57.72,848.04 56.21,848.98 53.59,850.01 C50.97,851.05 46.97,852.71 43.43,853.62 C39.88,854.53 36.03,855.62 32.34,855.47 C28.64,855.31 24.18,853.85 21.25,852.69 C18.33,851.54 16.25,850.00 14.78,848.54 C13.32,847.07 12.63,845.61 12.47,843.92 C12.32,842.22 12.86,839.99 13.86,838.37 C14.86,836.76 16.94,835.14 18.48,834.22 C20.02,833.29 21.10,833.21 23.10,832.83 C25.10,832.44 28.18,831.83 30.49,831.91 C32.80,831.98 35.42,832.60 36.96,833.29 C38.50,833.98 37.57,835.76 39.73,836.06 C41.89,836.37 47.51,835.03 49.89,835.14 C52.28,835.25 53.13,836.66 54.05,836.71 C54.98,836.76 54.82,835.63 55.44,835.42 C56.05,835.20 57.67,835.97 57.75,835.42 C57.82,834.86 57.52,832.83 55.90,832.09 C54.28,831.35 49.97,831.17 48.05,830.98 C46.12,830.80 44.43,831.29 44.35,830.98 C44.27,830.67 46.81,829.67 47.58,829.13 C48.35,828.59 47.81,828.98 48.97,827.75 C50.12,826.52 52.05,821.82 54.51,821.74 C56.98,821.66 61.75,825.59 63.75,827.29 C65.76,828.98 65.45,830.72 66.52,831.91 C67.60,833.09 69.30,834.09 70.22,834.40 C71.14,834.71 71.58,834.20 72.07,833.75 C72.56,833.31 73.79,832.34 73.18,831.72 C72.56,831.10 69.45,831.10 68.37,830.06 C67.29,829.01 67.02,826.82 66.71,825.44 C66.40,824.05 66.09,823.05 66.52,821.74 C66.96,820.43 68.06,817.94 69.30,817.58 C70.53,817.23 73.02,818.66 73.92,819.62 C74.81,820.57 74.07,822.70 74.66,823.31 C75.24,823.93 77.17,823.96 77.43,823.31 C77.69,822.67 76.97,820.93 76.23,819.43 C75.49,817.94 73.69,815.50 72.99,814.35 C72.30,813.20 71.61,813.58 72.07,812.50 C72.53,811.42 74.38,809.01 75.76,807.88 C77.15,806.76 78.38,806.22 80.38,805.76 C82.39,805.30 85.62,805.45 87.78,805.11 C89.93,804.77 92.24,804.26 93.32,803.72 C94.40,803.19 94.40,802.72 94.24,801.88 Z" fill="#000"/>
<circle cx="81.12" cy="796.15" r="1.1" fill="#fff"/>
</g>
<g transform="translate(107.8,0)">
<path d="M94.24,801.88 C94.09,801.03 92.93,799.41 92.40,798.64 C91.86,797.87 92.09,798.26 91.01,797.26 C89.93,796.26 87.70,794.02 85.93,792.64 C84.16,791.25 81.43,789.94 80.38,788.94 C79.34,787.94 80.18,787.37 79.65,786.63 C79.11,785.89 77.87,784.97 77.15,784.51 C76.43,784.04 75.66,783.43 75.30,783.86 C74.95,784.29 75.72,786.55 75.03,787.09 C74.33,787.63 72.18,787.37 71.14,787.09 C70.11,786.82 69.60,785.71 68.83,785.43 C68.06,785.15 67.14,785.23 66.52,785.43 C65.91,785.63 65.45,785.89 65.14,786.63 C64.83,787.37 64.60,789.02 64.68,789.87 C64.75,790.71 65.91,791.17 65.60,791.71 C65.29,792.25 65.14,792.79 62.83,793.10 C60.52,793.41 55.28,793.25 51.74,793.56 C48.20,793.87 44.35,794.25 41.58,794.95 C38.81,795.64 37.11,796.49 35.11,797.72 C33.11,798.95 31.03,800.64 29.57,802.34 C28.10,804.03 27.26,805.73 26.33,807.88 C25.41,810.04 24.79,812.66 24.02,815.27 C23.25,817.89 22.56,821.13 21.71,823.59 C20.87,826.05 20.25,828.21 18.94,830.06 C17.63,831.91 15.32,832.98 13.86,834.68 C12.40,836.37 10.96,838.53 10.16,840.22 C9.36,841.91 8.90,843.22 9.05,844.84 C9.21,846.46 9.52,848.23 11.09,849.92 C12.66,851.62 16.02,853.77 18.48,855.00 C20.94,856.24 23.56,856.78 25.87,857.31 C28.18,857.85 30.18,858.19 32.34,858.24 C34.49,858.28 36.80,857.95 38.81,857.59 C40.81,857.24 41.89,857.01 44.35,856.11 C46.81,855.22 51.13,853.50 53.59,852.23 C56.05,850.97 57.72,849.52 59.13,848.54 C60.55,847.55 62.09,846.50 62.09,846.32 C62.09,846.13 60.55,846.81 59.13,847.43 C57.72,848.04 56.21,848.98 53.59,850.01 C50.97,851.05 46.97,852.71 43.43,853.62 C39.88,854.53 36.03,855.62 32.34,855.47 C28.64,855.31 24.18,853.85 21.25,852.69 C18.33,851.54 16.25,850.00 14.78,848.54 C13.32,847.07 12.63,845.61 12.47,843.92 C12.32,842.22 12.86,839.99 13.86,838.37 C14.86,836.76 16.94,835.14 18.48,834.22 C20.02,833.29 21.10,833.21 23.10,832.83 C25.10,832.44 28.18,831.83 30.49,831.91 C32.80,831.98 35.42,832.60 36.96,833.29 C38.50,833.98 37.57,835.76 39.73,836.06 C41.89,836.37 47.51,835.03 49.89,835.14 C52.28,835.25 53.13,836.66 54.05,836.71 C54.98,836.76 54.82,835.63 55.44,835.42 C56.05,835.20 57.67,835.97 57.75,835.42 C57.82,834.86 57.52,832.83 55.90,832.09 C54.28,831.35 49.97,831.17 48.05,830.98 C46.12,830.80 44.43,831.29 44.35,830.98 C44.27,830.67 46.81,829.67 47.58,829.13 C48.35,828.59 47.81,828.98 48.97,827.75 C50.12,826.52 52.05,821.82 54.51,821.74 C56.98,821.66 61.75,825.59 63.75,827.29 C65.76,828.98 65.45,830.72 66.52,831.91 C67.60,833.09 69.30,834.09 70.22,834.40 C71.14,834.71 71.58,834.20 72.07,833.75 C72.56,833.31 73.79,832.34 73.18,831.72 C72.56,831.10 69.45,831.10 68.37,830.06 C67.29,829.01 67.02,826.82 66.71,825.44 C66.40,824.05 66.09,823.05 66.52,821.74 C66.96,820.43 68.06,817.94 69.30,817.58 C70.53,817.23 73.02,818.66 73.92,819.62 C74.81,820.57 74.07,822.70 74.66,823.31 C75.24,823.93 77.17,823.96 77.43,823.31 C77.69,822.67 76.97,820.93 76.23,819.43 C75.49,817.94 73.69,815.50 72.99,814.35 C72.30,813.20 71.61,813.58 72.07,812.50 C72.53,811.42 74.38,809.01 75.76,807.88 C77.15,806.76 78.38,806.22 80.38,805.76 C82.39,805.30 85.62,805.45 87.78,805.11 C89.93,804.77 92.24,804.26 93.32,803.72 C94.40,803.19 94.40,802.72 94.24,801.88 Z" fill="#000"/>
<circle cx="81.12" cy="796.15" r="1.1" fill="#fff"/>
</g>
<text x="33.3" y="818.6" font-family="'Liberation Sans', Arial, sans-serif" font-size="26" text-anchor="start" font-weight="normal" fill="#fff" letter-spacing="-0.5">WT</text>
<text x="141.1" y="818.6" font-family="'Liberation Sans', Arial, sans-serif" font-size="26" text-anchor="start" font-weight="normal" fill="#fff" letter-spacing="-0.5">WT</text>
<path d="M26,862 L26.5,878 Q27,884.5 33,884.7 L82,884.7 Q90,885 91.3,896 L91.5,906.5 M91.3,896 Q92.5,885 100.5,884.7 L149.5,884.7 Q155.5,884.5 156,878 L156.5,862" fill="none" stroke="#333" stroke-width="1.3"/>
<text x="67.5" y="928.5" font-family="'Liberation Sans', Arial, sans-serif" font-size="25" text-anchor="start" font-weight="normal" fill="#000" >Flow</text>
</g>
<g id="panelE">
<rect x="507.2" y="908.8" width="22.0" height="90.8" fill="#ff0000" stroke="#000" stroke-width="2"/>
<rect x="579.3" y="980.6" width="22.0" height="19.0" fill="#00bf00" stroke="#000" stroke-width="2"/>
<line x1="518.2" y1="863.5" x2="518.2" y2="952.0" stroke="#222" stroke-width="1" stroke-linecap="butt"/>
<line x1="512.0" y1="863.5" x2="524.4" y2="863.5" stroke="#222" stroke-width="1" stroke-linecap="butt"/>
<line x1="512.0" y1="952.0" x2="524.4" y2="952.0" stroke="#222" stroke-width="1" stroke-linecap="butt"/>
<line x1="590.3" y1="969.7" x2="590.3" y2="991.0" stroke="#222" stroke-width="1" stroke-linecap="butt"/>
<line x1="584.1" y1="969.7" x2="596.5" y2="969.7" stroke="#222" stroke-width="1" stroke-linecap="butt"/>
<line x1="584.1" y1="991.0" x2="596.5" y2="991.0" stroke="#222" stroke-width="1" stroke-linecap="butt"/>
<line x1="458.5" y1="769.6" x2="458.5" y2="1000.6" stroke="#000" stroke-width="2" stroke-linecap="butt"/>
<line x1="457.5" y1="999.6" x2="686.5" y2="999.6" stroke="#000" stroke-width="2" stroke-linecap="butt"/>
<line x1="449.5" y1="999.6" x2="458.5" y2="999.6" stroke="#000" stroke-width="2" stroke-linecap="butt"/>
<text x="446.0" y="1007.6" font-family="'Liberation Sans', Arial, sans-serif" font-size="25" text-anchor="end" font-weight="normal" fill="#000" >0</text>
<line x1="449.5" y1="942.6" x2="458.5" y2="942.6" stroke="#000" stroke-width="2" stroke-linecap="butt"/>
<text x="446.0" y="950.6" font-family="'Liberation Sans', Arial, sans-serif" font-size="25" text-anchor="end" font-weight="normal" fill="#000" >1</text>
<line x1="449.5" y1="885.5" x2="458.5" y2="885.5" stroke="#000" stroke-width="2" stroke-linecap="butt"/>
<text x="446.0" y="893.5" font-family="'Liberation Sans', Arial, sans-serif" font-size="25" text-anchor="end" font-weight="normal" fill="#000" >2</text>
<line x1="449.5" y1="828.5" x2="458.5" y2="828.5" stroke="#000" stroke-width="2" stroke-linecap="butt"/>
<text x="446.0" y="836.5" font-family="'Liberation Sans', Arial, sans-serif" font-size="25" text-anchor="end" font-weight="normal" fill="#000" >3</text>
<line x1="449.5" y1="771.4" x2="458.5" y2="771.4" stroke="#000" stroke-width="2" stroke-linecap="butt"/>
<text x="446.0" y="779.4" font-family="'Liberation Sans', Arial, sans-serif" font-size="25" text-anchor="end" font-weight="normal" fill="#000" >4</text>
<line x1="482.3" y1="999.6" x2="482.3" y2="1009.2" stroke="#000" stroke-width="2" stroke-linecap="butt"/>
<line x1="518.2" y1="999.6" x2="518.2" y2="1009.2" stroke="#000" stroke-width="2" stroke-linecap="butt"/>
<line x1="554.4" y1="999.6" x2="554.4" y2="1009.2" stroke="#000" stroke-width="2" stroke-linecap="butt"/>
<line x1="590.3" y1="999.6" x2="590.3" y2="1009.2" stroke="#000" stroke-width="2" stroke-linecap="butt"/>
<line x1="626.4" y1="999.6" x2="626.4" y2="1009.2" stroke="#000" stroke-width="2" stroke-linecap="butt"/>
<line x1="662.5" y1="999.6" x2="662.5" y2="1009.2" stroke="#000" stroke-width="2" stroke-linecap="butt"/>
<circle cx="475.2" cy="999.4" r="5.0" fill="#000"/>
<circle cx="478.8" cy="999.2" r="5.0" fill="#000"/>
<circle cx="482.3" cy="999.4" r="5.0" fill="#000"/>
<circle cx="485.9" cy="999.2" r="5.0" fill="#000"/>
<circle cx="489.5" cy="999.4" r="5.0" fill="#000"/>
<circle cx="518.2" cy="815.0" r="5.0" fill="#000"/>
<circle cx="510.8" cy="906.4" r="5.0" fill="#000"/>
<circle cx="526.3" cy="905.8" r="5.0" fill="#000"/>
<circle cx="518.2" cy="913.2" r="5.0" fill="#000"/>
<circle cx="518.2" cy="927.2" r="5.0" fill="#000"/>
<circle cx="518.2" cy="943.8" r="5.0" fill="#000"/>
<circle cx="518.2" cy="954.9" r="5.0" fill="#000"/>
<circle cx="547.0" cy="999.4" r="5.0" fill="#000"/>
<circle cx="550.8" cy="999.2" r="5.0" fill="#000"/>
<circle cx="554.4" cy="999.4" r="5.0" fill="#000"/>
<circle cx="558.1" cy="999.2" r="5.0" fill="#000"/>
<circle cx="562.0" cy="999.4" r="5.0" fill="#000"/>
<circle cx="582.8" cy="965.3" r="5.0" fill="#000"/>
<circle cx="597.7" cy="970.6" r="5.0" fill="#000"/>
<circle cx="582.8" cy="978.7" r="5.0" fill="#000"/>
<circle cx="590.2" cy="981.6" r="5.0" fill="#000"/>
<circle cx="597.7" cy="981.6" r="5.0" fill="#000"/>
<circle cx="594.7" cy="989.0" r="5.0" fill="#000"/>
<circle cx="585.8" cy="997.0" r="5.0" fill="#000"/>
<circle cx="594.7" cy="996.5" r="5.0" fill="#000"/>
<circle cx="619.0" cy="999.4" r="5.0" fill="#000"/>
<circle cx="622.8" cy="999.2" r="5.0" fill="#000"/>
<circle cx="626.4" cy="999.4" r="5.0" fill="#000"/>
<circle cx="630.1" cy="999.2" r="5.0" fill="#000"/>
<circle cx="634.0" cy="999.4" r="5.0" fill="#000"/>
<circle cx="657.4" cy="992.5" r="5.0" fill="#000"/>
<circle cx="662.5" cy="997.5" r="5.0" fill="#000"/>
<circle cx="669.0" cy="997.5" r="5.0" fill="#000"/>
<circle cx="655.9" cy="998.0" r="5.0" fill="#000"/>
<circle cx="666.0" cy="996.0" r="5.0" fill="#000"/>
<polyline points="518.2,657.0 518.2,643.5 662.5,643.5 662.5,978.8" fill="none" stroke="#000" stroke-width="2" stroke-linejoin="miter"/>
<polyline points="518.2,704.7 518.2,691.8 590.3,691.8 590.3,752.8" fill="none" stroke="#000" stroke-width="2" stroke-linejoin="miter"/>
<polyline points="518.2,752.8 518.2,739.9 554.4,739.9 554.4,752.8" fill="none" stroke="#000" stroke-width="2" stroke-linejoin="miter"/>
<polyline points="482.3,984.5 482.3,788.2 513.8,788.2 513.8,802.2" fill="none" stroke="#000" stroke-width="2" stroke-linejoin="miter"/>
<polyline points="521.8,802.2 521.8,788.2 626.4,788.2 626.4,985.4" fill="none" stroke="#000" stroke-width="2" stroke-linejoin="miter"/>
<text x="593.2" y="640.4" font-family="'DejaVu Sans', 'Liberation Sans', sans-serif" font-size="23.6" text-anchor="middle" letter-spacing="2.35" fill="#000" stroke="#000" stroke-width="0.76">****</text>
<text x="556.7" y="688.0" font-family="'DejaVu Sans', 'Liberation Sans', sans-serif" font-size="23.6" text-anchor="middle" letter-spacing="2.35" fill="#000" stroke="#000" stroke-width="0.76">****</text>
<text x="538.6" y="736.6" font-family="'DejaVu Sans', 'Liberation Sans', sans-serif" font-size="23.6" text-anchor="middle" letter-spacing="2.35" fill="#000" stroke="#000" stroke-width="0.76">****</text>
<text x="500.0" y="784.2" font-family="'DejaVu Sans', 'Liberation Sans', sans-serif" font-size="23.6" text-anchor="middle" letter-spacing="2.35" fill="#000" stroke="#000" stroke-width="0.76">****</text>
<text x="577.0" y="784.2" font-family="'DejaVu Sans', 'Liberation Sans', sans-serif" font-size="23.6" text-anchor="middle" letter-spacing="2.35" fill="#000" stroke="#000" stroke-width="0.76">****</text>
<text x="458.4" y="1042.7" font-family="'Liberation Sans', Arial, sans-serif" font-size="25.2" text-anchor="end" font-weight="normal" fill="#000" >IP/IV Eggs</text>
<text x="483.4" y="1042.9" font-family="'Liberation Sans', Arial, sans-serif" font-size="39.2" text-anchor="middle" fill="#000">-</text>
<text x="519.7" y="1043.5" font-family="'Liberation Sans', Arial, sans-serif" font-size="32.5" text-anchor="middle" fill="#000" stroke="#000" stroke-width="0.49">+</text>
<text x="555.5" y="1042.9" font-family="'Liberation Sans', Arial, sans-serif" font-size="39.2" text-anchor="middle" fill="#000">-</text>
<text x="591.8" y="1043.5" font-family="'Liberation Sans', Arial, sans-serif" font-size="32.5" text-anchor="middle" fill="#000" stroke="#000" stroke-width="0.49">+</text>
<text x="627.5" y="1042.9" font-family="'Liberation Sans', Arial, sans-serif" font-size="39.2" text-anchor="middle" fill="#000">-</text>
<text x="664.0" y="1043.5" font-family="'Liberation Sans', Arial, sans-serif" font-size="32.5" text-anchor="middle" fill="#000" stroke="#000" stroke-width="0.49">+</text>
<line x1="477.0" y1="1048.8" x2="527.9" y2="1048.8" stroke="#000" stroke-width="1.9" stroke-linecap="butt"/>
<line x1="550.4" y1="1048.8" x2="601.4" y2="1048.8" stroke="#000" stroke-width="1.9" stroke-linecap="butt"/>
<line x1="624.2" y1="1048.8" x2="674.6" y2="1048.8" stroke="#000" stroke-width="1.9" stroke-linecap="butt"/>
<text x="504.3" y="1075.3" font-family="'Liberation Sans', Arial, sans-serif" font-size="22.3" text-anchor="middle" font-weight="normal" fill="#000" >CCR2<tspan dy="-8.5" dx="0" font-size="14.5">+</tspan><tspan dy="8.5" dx="0" font-size="1">&#8203;</tspan></text>
<text x="580.0" y="1075.3" font-family="'Liberation Sans', Arial, sans-serif" font-size="22.3" text-anchor="middle" font-weight="normal" fill="#000" >MHCII<tspan dy="-8.5" dx="0" font-size="14.5">hi</tspan><tspan dy="8.5" dx="0" font-size="1">&#8203;</tspan></text>
<text x="660.5" y="1075.3" font-family="'Liberation Sans', Arial, sans-serif" font-size="22.3" text-anchor="middle" font-weight="normal" fill="#000" >FOLR2<tspan dy="-8.5" dx="0" font-size="14.5">+</tspan><tspan dy="8.5" dx="0" font-size="1">&#8203;</tspan></text>
<text transform="translate(385.8,881.0) rotate(-90)" font-family="'Liberation Sans', Arial, sans-serif" font-size="25.1" text-anchor="middle" fill="#000">TSP-1<tspan dy="-8.3" dx="0" font-size="20.5">+</tspan><tspan dy="8.3" dx="0" font-size="1">&#8203;</tspan> IM subsets</text>
<text transform="translate(420.4,878.0) rotate(-90)" font-family="'Liberation Sans', Arial, sans-serif" font-size="26.1" text-anchor="middle" fill="#000">/ Lung (x10<tspan dy="-13.5" dx="0.5" font-size="15.5">6</tspan><tspan dy="13.5" dx="-4.5" font-size="1">&#8203;</tspan>)</text>
</g>
<g id="panelF">
<rect x="992.1" y="848.3" width="46.0" height="127.7" fill="#ff0000" stroke="#000" stroke-width="2.2"/>
<rect x="1064.4" y="772.8" width="46.0" height="203.2" fill="#ff0000" stroke="#000" stroke-width="2.2"/>
<line x1="1015.1" y1="839.9" x2="1015.1" y2="854.6" stroke="#333" stroke-width="1" stroke-linecap="butt"/>
<line x1="1002.8" y1="839.9" x2="1027.4" y2="839.9" stroke="#333" stroke-width="1" stroke-linecap="butt"/>
<line x1="1002.8" y1="854.6" x2="1027.4" y2="854.6" stroke="#333" stroke-width="1" stroke-linecap="butt"/>
<line x1="1087.4" y1="762.8" x2="1087.4" y2="781.6" stroke="#333" stroke-width="1" stroke-linecap="butt"/>
<line x1="1075.6" y1="762.8" x2="1099.2" y2="762.8" stroke="#333" stroke-width="1" stroke-linecap="butt"/>
<line x1="1075.6" y1="781.6" x2="1099.2" y2="781.6" stroke="#333" stroke-width="1" stroke-linecap="butt"/>
<line x1="967.7" y1="722.4" x2="967.7" y2="977.1" stroke="#000" stroke-width="2.2" stroke-linecap="butt"/>
<line x1="966.6" y1="976.0" x2="1136.4" y2="976.0" stroke="#000" stroke-width="2.2" stroke-linecap="butt"/>
<line x1="956.0" y1="976.0" x2="967.7" y2="976.0" stroke="#000" stroke-width="2.2" stroke-linecap="butt"/>
<text x="953.7" y="985.4" font-family="'Liberation Sans', Arial, sans-serif" font-size="27.9" text-anchor="end" font-weight="normal" fill="#000" >0</text>
<line x1="956.0" y1="892.1" x2="967.7" y2="892.1" stroke="#000" stroke-width="2.2" stroke-linecap="butt"/>
<text x="953.7" y="901.5" font-family="'Liberation Sans', Arial, sans-serif" font-size="27.9" text-anchor="end" font-weight="normal" fill="#000" >500</text>
<line x1="956.0" y1="808.2" x2="967.7" y2="808.2" stroke="#000" stroke-width="2.2" stroke-linecap="butt"/>
<text x="953.7" y="817.6" font-family="'Liberation Sans', Arial, sans-serif" font-size="27.9" text-anchor="end" font-weight="normal" fill="#000" >1000</text>
<line x1="956.0" y1="724.3" x2="967.7" y2="724.3" stroke="#000" stroke-width="2.2" stroke-linecap="butt"/>
<text x="953.7" y="733.7" font-family="'Liberation Sans', Arial, sans-serif" font-size="27.9" text-anchor="end" font-weight="normal" fill="#000" >1500</text>
<line x1="1015.1" y1="976.0" x2="1015.1" y2="986.7" stroke="#000" stroke-width="2.2" stroke-linecap="butt"/>
<line x1="1087.4" y1="976.0" x2="1087.4" y2="986.7" stroke="#000" stroke-width="2.2" stroke-linecap="butt"/>
<circle cx="1008.4" cy="837.5" r="4.2" fill="#000"/>
<circle cx="995.1" cy="844.1" r="4.2" fill="#000"/>
<circle cx="1008.4" cy="846.9" r="4.2" fill="#000"/>
<circle cx="1021.9" cy="846.0" r="4.2" fill="#000"/>
<circle cx="1035.4" cy="850.4" r="4.2" fill="#000"/>
<circle cx="1015.1" cy="859.3" r="4.2" fill="#000"/>
<circle cx="1087.1" cy="755.2" r="4.2" fill="#000"/>
<circle cx="1072.0" cy="768.7" r="4.2" fill="#000"/>
<circle cx="1087.1" cy="769.6" r="4.2" fill="#000"/>
<circle cx="1102.3" cy="771.5" r="4.2" fill="#000"/>
<circle cx="1087.1" cy="778.9" r="4.2" fill="#000"/>
<circle cx="1102.3" cy="780.2" r="4.2" fill="#000"/>
<circle cx="1072.0" cy="782.9" r="4.2" fill="#000"/>
<polyline points="1015.1,822.7 1015.1,724.7 1087.4,724.7 1087.4,739.5" fill="none" stroke="#000" stroke-width="2.1" stroke-linejoin="miter"/>
<text x="1053.9" y="721.6" font-family="'DejaVu Sans', 'Liberation Sans', sans-serif" font-size="24.5" text-anchor="middle" letter-spacing="3.65" fill="#000" stroke="#000" stroke-width="0.78">****</text>
<text x="982.0" y="1020.8" font-family="'Liberation Sans', Arial, sans-serif" font-size="28" text-anchor="end" font-weight="normal" fill="#000" >IP/IV Eggs</text>
<text x="1015.8" y="1022.3" font-family="'Liberation Sans', Arial, sans-serif" font-size="38.4" text-anchor="middle" fill="#000">-</text>
<text x="1087.4" y="1024.0" font-family="'Liberation Sans', Arial, sans-serif" font-size="35.7" text-anchor="middle" fill="#000" stroke="#000" stroke-width="0.54">+</text>
<line x1="995.3" y1="1030.4" x2="1111.9" y2="1030.4" stroke="#000" stroke-width="2.2" stroke-linecap="butt"/>
<text x="1054.4" y="1060.2" font-family="'Liberation Sans', Arial, sans-serif" font-size="28" text-anchor="middle" font-weight="normal" fill="#000" >CCR2+ IMs</text>
<text transform="translate(876.2,845.3) rotate(-90)" font-family="'Liberation Sans', Arial, sans-serif" font-size="27.5" text-anchor="middle" fill="#000">TSP-1<tspan dy="-9.8" dx="0" font-size="23.5">+</tspan><tspan dy="9.8" dx="0" font-size="1">&#8203;</tspan> (MFI)</text>
</g>
</svg></body></html>
